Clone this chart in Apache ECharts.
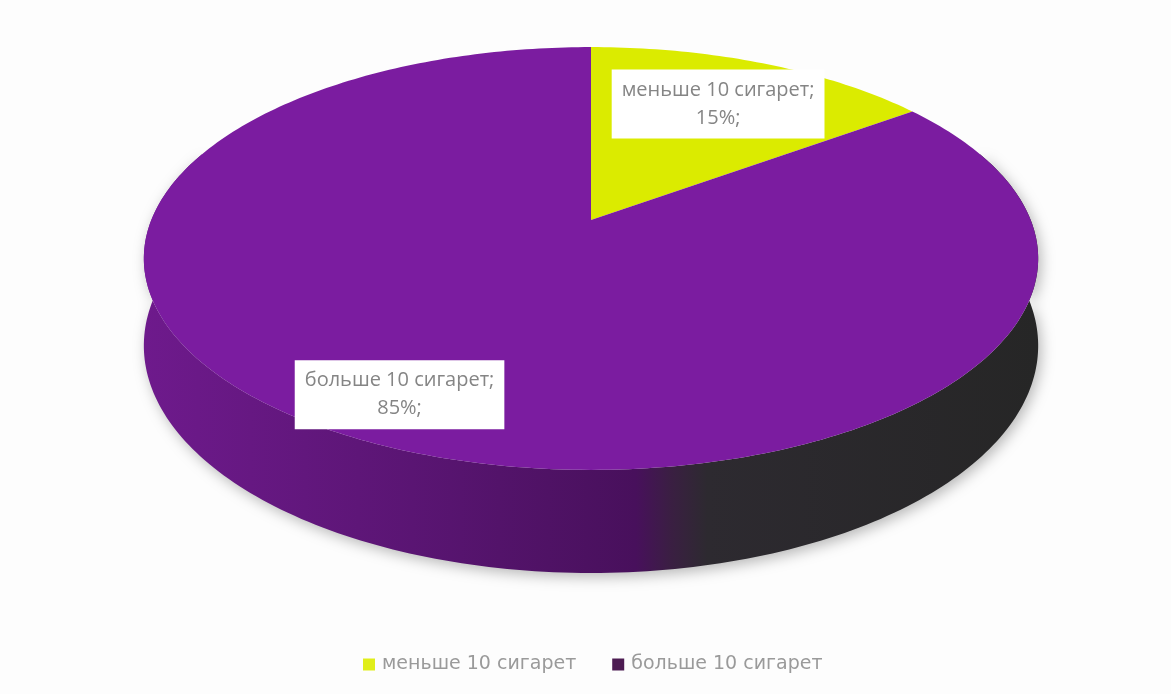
<!DOCTYPE html>
<html>
<head>
<meta charset="utf-8">
<script src="https://cdn.jsdelivr.net/npm/echarts@6/dist/echarts.min.js"></script>
<style>
  html, body { margin: 0; padding: 0; background: #fdfdfd; }
  #chart { width: 1171px; height: 694px; }
</style>
</head>
<body>
<div id="chart"></div>
<script>
// Categories and their shares (percent)
const categories = ['меньше 10 сигарет', 'больше 10 сигарет'];
const shares = [15, 85];

// Colours
const topColors = ['#dbeb00', '#7b1ca0'];
const legendColors = ['#e0ee1a', '#4d1c52'];
const sideStops = [
  [0.00, '#6e1a8c'],
  [0.30, '#5a1573'],
  [0.55, '#48105c'],
  [0.59, '#3a1f42'],
  [0.63, '#2d2a30'],
  [1.00, '#262626']
];

// Perspective camera for the tilted disc (unit radius)
const VIEW = { cx: 0.5047, cy: 0.317, focal: 1.826, dist: 4.863, elev: 27.7, depth: 0.2166 };
// Label anchor: fraction of the radius along the slice's middle angle
const labelRadius = [0.71, 0.83];

const LABEL_FONT = '"Open Sans", "DejaVu Sans", sans-serif';
const LEGEND_FONT = '"DejaVu Sans", "Open Sans", sans-serif';
const total = shares.reduce((a, b) => a + b, 0);

// Y is the height of the face; the wall is extruded straight down in view space
function project(X, Y, Z, W, H) {
  const e = VIEW.elev * Math.PI / 180, s = Math.sin(e), c = Math.cos(e);
  const zc = VIEW.dist + Z * c;
  const yc = Y * c + Z * s;
  const f = VIEW.focal * W;
  return [VIEW.cx * W + f * X / zc, VIEW.cy * H - f * yc / zc];
}

function arc(fromDeg, toDeg, Y, W, H) {
  const n = Math.max(2, Math.ceil(Math.abs(toDeg - fromDeg)));
  const pts = [];
  for (let k = 0; k <= n; k++) {
    const t = (fromDeg + (toDeg - fromDeg) * k / n) * Math.PI / 180;
    pts.push(project(Math.cos(t), Y, Math.sin(t), W, H));
  }
  return pts;
}

function renderItem(params, api) {
  const W = api.getWidth(), H = api.getHeight();
  const i = params.seriesIndex;
  const value = api.value(0);
  let before = 0;
  for (let k = 0; k < i; k++) before += shares[k];
  const startDeg = 90 - 360 * before / total;
  const endDeg = startDeg - 360 * value / total;

  const children = [];

  // Side wall: the near half of the rim plus a margin so the silhouette stays smooth
  const fronts = [[-200, 20], [160, 380], [-560, -340]];
  fronts.forEach(([a0, b0]) => {
    const a = Math.max(a0, endDeg), b = Math.min(b0, startDeg);
    if (b - a <= 0.01) return;
    const pts = arc(b, a, 0, W, H).concat(arc(a, b, -VIEW.depth, W, H));
    children.push({
      type: 'polygon',
      z2: 0,
      shape: { points: pts },
      style: {
        fill: new echarts.graphic.LinearGradient(0, 0, 1, 0,
          sideStops.map(([o, c]) => ({ offset: o, color: c }))),
        shadowBlur: 14,
        shadowColor: 'rgba(0,0,0,0.28)',
        shadowOffsetX: 3,
        shadowOffsetY: 4
      }
    });
  });

  // Top face of the slice
  const apex = project(0, 0, 0, W, H);
  children.push({
    type: 'polygon',
    z2: 10,
    shape: { points: [apex].concat(arc(startDeg, endDeg, 0, W, H)) },
    style: { fill: topColors[i] }
  });

  // Data label
  const mid = ((startDeg + endDeg) / 2) * Math.PI / 180;
  const r = labelRadius[i];
  const lp = project(r * Math.cos(mid), 0, r * Math.sin(mid), W, H);
  children.push({
    type: 'text',
    z2: 20,
    style: {
      x: lp[0], y: lp[1],
      text: categories[i] + ';\n' + value + '%;',
      align: 'center',
      verticalAlign: 'middle',
      font: '20px ' + LABEL_FONT,
      lineHeight: 28,
      fill: '#858585',
      backgroundColor: '#ffffff',
      padding: [7, 10, 6, 10]
    }
  });

  return { type: 'group', children };
}

const chart = echarts.init(document.getElementById('chart'), null, { renderer: 'canvas' });
chart.setOption({
  backgroundColor: '#fdfdfd',
  animation: false,
  legend: {
    top: 650,
    left: 358,
    icon: 'rect',
    itemWidth: 12,
    itemHeight: 12,
    itemGap: 36,
    selectedMode: false,
    textStyle: { fontFamily: LEGEND_FONT, fontSize: 19, color: '#9a9a9a', padding: [0, 0, 0, 2] },
    data: categories.map((name, i) => ({ name, itemStyle: { color: legendColors[i] } }))
  },
  series: categories.map((name, i) => ({
    type: 'custom',
    name,
    coordinateSystem: 'none',
    silent: true,
    itemStyle: { color: legendColors[i] },
    data: [[shares[i]]],
    renderItem
  }))
});
</script>
</body>
</html>
